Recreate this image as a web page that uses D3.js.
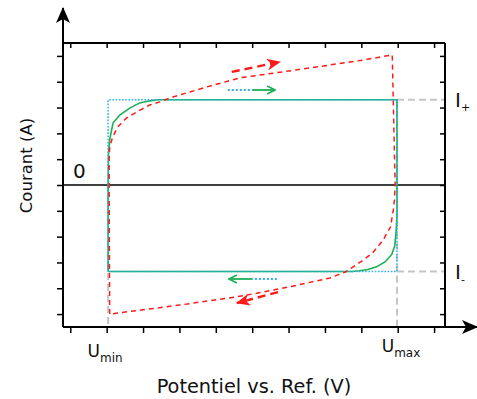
<!DOCTYPE html>
<html>
<head>
<meta charset="utf-8">
<script src="https://cdn.jsdelivr.net/npm/d3@7"></script>
<style>
  body { margin: 0; background: #fff; }
  text { font-family: "DejaVu Sans", sans-serif; fill: #111; }
</style>
</head>
<body>
<div id="chart"></div>
<script>
// tick positions (arbitrary units)
const xTicks = d3.range(0, 11);
const yTicks = d3.range(-5, 6);

const uMin = 1.04, uMax = 8.98;
const iPlus = 3.3, iMinus = -3.35;

// capacitive response (green)
const greenV = [1.04, 1.04, 1.05, 1.08, 1.175, 1.358, 1.634, 1.909, 2.185, 2.40, 8.98,
                8.98, 8.96, 8.92, 8.84, 8.66, 8.42, 8.18, 7.95, 7.75, 1.04];
const greenI = [-3.35, 0, 1.2, 1.74, 2.40, 2.71, 2.98, 3.18, 3.26, 3.3, 3.3,
                -1.2, -1.74, -2.35, -2.68, -2.97, -3.17, -3.27, -3.32, -3.35, -3.35];

// resistive response (red dashed)
const redV = [1.083, 1.069, 1.069, 1.083, 1.165, 1.303, 1.551, 1.826, 2.185, 2.46, 2.82,
              3.76, 4.66, 6.23, 8.05, 8.85,
              8.93, 8.91, 8.88, 8.80, 8.60, 8.33, 8.05, 7.56, 7.14, 6.23, 5.30, 4.53, 3.01, 1.083];
const redI = [-5.0, -0.58, 0.97, 1.47, 1.86, 2.25, 2.60, 2.83, 3.10, 3.22, 3.41,
              3.80, 4.15, 4.46, 4.84, 5.04,
              0, -0.58, -0.97, -1.63, -2.13, -2.60, -2.91, -3.37, -3.60, -3.88, -4.15, -4.34, -4.65, -5.0];

// sweep direction arrows [v0, i0, v1, i1]
const redArrows = [[4.44, 4.38, 5.76, 4.77], [5.71, -4.15, 4.58, -4.57]];
const greenArrows = [[5.0, 3.68, 5.63, 3.68], [5.0, -3.64, 4.36, -3.64]];
const blueTails = [[4.33, 3.68, 5.0, 3.68], [5.68, -3.64, 5.0, -3.64]];

const W = 477, H = 399;
const x = d3.scaleLinear().domain([-0.2, 10.3]).range([63, 445]);
const y = d3.scaleLinear().domain([-5.5, 5.5]).range([327, 43]);

const svg = d3.select("#chart").append("svg")
  .attr("width", W).attr("height", H);

const defs = svg.append("defs");
defs.append("marker")
  .attr("id", "redHead").attr("markerUnits", "userSpaceOnUse")
  .attr("viewBox", "0 0 14 12").attr("refX", 13).attr("refY", 6)
  .attr("markerWidth", 14).attr("markerHeight", 12).attr("orient", "auto")
  .append("path").attr("d", "M0,0 L14,6 L0,12 L4,6 Z").attr("fill", "#ff1a1a");
defs.append("marker")
  .attr("id", "greenHead").attr("markerUnits", "userSpaceOnUse")
  .attr("viewBox", "0 0 10 10").attr("refX", 9).attr("refY", 5)
  .attr("markerWidth", 10).attr("markerHeight", 10).attr("orient", "auto")
  .append("path").attr("d", "M1,1 L9,5 L1,9").attr("fill", "none")
  .attr("stroke", "#1aaf54").attr("stroke-width", 1.6);
defs.append("marker")
  .attr("id", "axHead").attr("markerUnits", "userSpaceOnUse")
  .attr("viewBox", "0 0 16 16").attr("refX", 15).attr("refY", 8)
  .attr("markerWidth", 16).attr("markerHeight", 16).attr("orient", "auto")
  .append("path").attr("d", "M0,1 L16,8 L0,15 L4,8 Z").attr("fill", "#000");

// ticks
svg.append("g").attr("transform", `translate(0,${y(-5.5)})`)
  .call(d3.axisBottom(x).tickValues(xTicks).tickSize(6).tickFormat(""));
svg.append("g").attr("transform", `translate(0,${y(5.5)})`)
  .call(d3.axisTop(x).tickValues(xTicks).tickSize(-5).tickFormat(""));
svg.append("g").attr("transform", `translate(${x(-0.2)},0)`)
  .call(d3.axisLeft(y).tickValues(yTicks).tickSize(6).tickFormat(""));
svg.append("g").attr("transform", `translate(${x(10.3)},0)`)
  .call(d3.axisRight(y).tickValues(yTicks).tickSize(-5).tickFormat(""));
svg.selectAll(".domain").remove();
svg.selectAll(".tick line").attr("stroke", "#000").attr("stroke-width", 1.5);

// grey guide lines
const grey = svg.append("g").attr("stroke", "#c6c6c6").attr("stroke-width", 2)
  .attr("stroke-dasharray", "7,4").attr("fill", "none");
grey.append("line").attr("x1", x(uMin)).attr("x2", x(uMin)).attr("y1", y(0)).attr("y2", y(-5.5));
grey.append("line").attr("x1", x(uMax)).attr("x2", x(uMax)).attr("y1", y(iPlus)).attr("y2", y(-5.5));
grey.append("line").attr("x1", x(uMax)).attr("x2", x(10.3)).attr("y1", y(iPlus)).attr("y2", y(iPlus));
grey.append("line").attr("x1", x(uMax)).attr("x2", x(10.3)).attr("y1", y(iMinus)).attr("y2", y(iMinus));

// zero line
svg.append("line").attr("x1", x(-0.2)).attr("x2", x(10.3))
  .attr("y1", y(0)).attr("y2", y(0)).attr("stroke", "#000").attr("stroke-width", 1.3);

const line = d3.line().x(d => x(d[0])).y(d => y(d[1]));

// green curve
svg.append("path").datum(d3.zip(greenV, greenI))
  .attr("d", line).attr("fill", "none")
  .attr("stroke", "#1aaf54").attr("stroke-width", 1.6);

// ideal rectangle (blue dotted)
const rect = [[uMin, iMinus], [uMin, iPlus], [uMax, iPlus], [uMax, iMinus], [uMin, iMinus]];
svg.append("path").datum(rect)
  .attr("d", line).attr("fill", "none")
  .attr("stroke", "#2eb3ee").attr("stroke-width", 1.6).attr("stroke-dasharray", "1.6,1.6");

// red dashed loop
svg.append("path").datum(d3.zip(redV, redI))
  .attr("d", line).attr("fill", "none")
  .attr("stroke", "#ff1a1a").attr("stroke-width", 1.5).attr("stroke-dasharray", "5,4");

// direction arrows
blueTails.forEach(a => {
  svg.append("line").attr("x1", x(a[0])).attr("y1", y(a[1])).attr("x2", x(a[2])).attr("y2", y(a[3]))
    .attr("stroke", "#2eb3ee").attr("stroke-width", 2).attr("stroke-dasharray", "2,2");
});
greenArrows.forEach(a => {
  svg.append("line").attr("x1", x(a[0])).attr("y1", y(a[1])).attr("x2", x(a[2])).attr("y2", y(a[3]))
    .attr("stroke", "#1aaf54").attr("stroke-width", 1.8).attr("marker-end", "url(#greenHead)");
});
redArrows.forEach(a => {
  svg.append("line").attr("x1", x(a[0])).attr("y1", y(a[1])).attr("x2", x(a[2])).attr("y2", y(a[3]))
    .attr("stroke", "#ff1a1a").attr("stroke-width", 2.4).attr("stroke-dasharray", "8,5")
    .attr("marker-end", "url(#redHead)");
});

// frame + axis arrows
const frame = svg.append("g").attr("stroke", "#000").attr("stroke-width", 2).attr("fill", "none");
frame.append("line").attr("x1", x(-0.2)).attr("x2", x(10.3)).attr("y1", y(5.5)).attr("y2", y(5.5));
frame.append("line").attr("x1", x(10.3)).attr("x2", x(10.3)).attr("y1", y(5.5)).attr("y2", y(-5.5));
frame.append("line").attr("x1", x(-0.2)).attr("x2", 477).attr("y1", y(-5.5)).attr("y2", y(-5.5))
  .attr("marker-end", "url(#axHead)");
frame.append("line").attr("x1", x(-0.2)).attr("x2", x(-0.2)).attr("y1", y(-5.5)).attr("y2", 8)
  .attr("marker-end", "url(#axHead)");

// labels
svg.append("text").attr("x", x(0.25)).attr("y", y(0) - 7)
  .attr("text-anchor", "middle").attr("font-size", 20).text("0");

const umin = svg.append("text").attr("x", x(uMin) - 3).attr("y", 357)
  .attr("text-anchor", "middle").attr("font-size", 17);
umin.append("tspan").text("U");
umin.append("tspan").attr("dy", 5).attr("font-size", 12).text("min");

const umax = svg.append("text").attr("x", x(uMax) + 4).attr("y", 352)
  .attr("text-anchor", "middle").attr("font-size", 17);
umax.append("tspan").text("U");
umax.append("tspan").attr("dy", 5).attr("font-size", 12).text("max");

const ip = svg.append("text").attr("x", 455).attr("y", y(iPlus) + 7).attr("font-size", 20);
ip.append("tspan").text("I");
ip.append("tspan").attr("dy", 4).attr("font-size", 11).text("+");
const im = svg.append("text").attr("x", 455).attr("y", y(iMinus) + 8).attr("font-size", 20);
im.append("tspan").text("I");
im.append("tspan").attr("dy", 4).attr("font-size", 11).text("-");

svg.append("text").attr("x", 254).attr("y", 393)
  .attr("text-anchor", "middle").attr("font-size", 19.3).text("Potentiel vs. Ref. (V)");
svg.append("text").attr("transform", "translate(32,165.5) rotate(-90)")
  .attr("text-anchor", "middle").attr("font-size", 16.5).text("Courant (A)");
</script>
</body>
</html>
